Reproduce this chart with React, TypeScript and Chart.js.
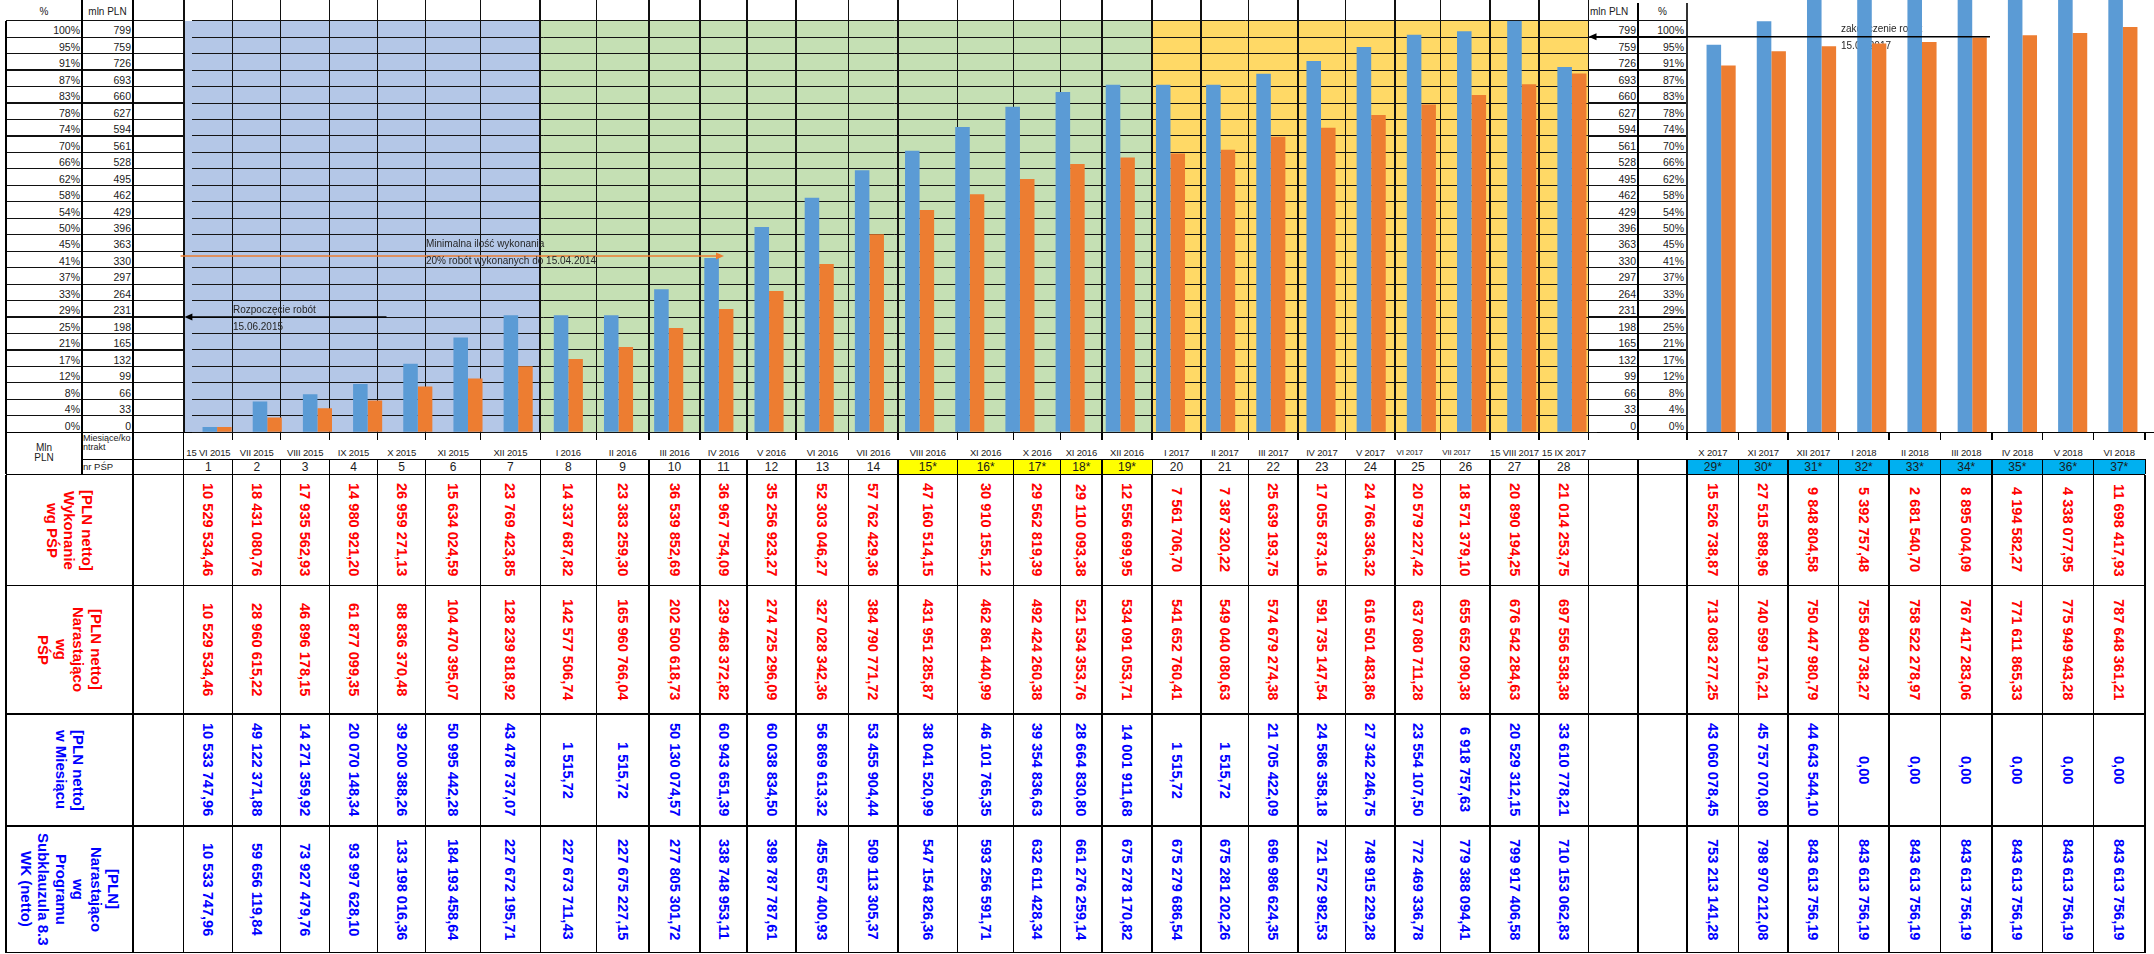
import React, { useEffect, useRef } from "react";
import { Chart, registerables } from "chart.js";

Chart.register(...registerables);

// ---------------- data ----------------
const MONTHS_A: string[] = [
  "15 VI 2015", "VII 2015", "VIII 2015", "IX 2015", "X 2015", "XI 2015", "XII 2015",
  "I 2016", "II 2016", "III 2016", "IV 2016", "V 2016", "VI 2016", "VII 2016",
  "VIII 2016", "XI 2016", "X 2016", "XI 2016", "XII 2016",
  "I 2017", "II 2017", "III 2017", "IV 2017", "V 2017", "VI 2017", "VII 2017", "15 VIII 2017", "15 IX 2017",
];
const MONTHS_B: string[] = ["X 2017", "XI 2017", "XII 2017", "I 2018", "II 2018", "III 2018", "IV 2018", "V 2018", "VI 2018"];

const PSP_A: string[] = [
  "1", "2", "3", "4", "5", "6", "7", "8", "9", "10", "11", "12", "13", "14",
  "15*", "16*", "17*", "18*", "19*", "20", "21", "22", "23", "24", "25", "26", "27", "28",
];
const PSP_B: string[] = ["29*", "30*", "31*", "32*", "33*", "34*", "35*", "36*", "37*"];

// [PLN netto] Wykonanie wg PŚP
const WYKONANIE_PSP: number[] = [
  10529534.46, 18431080.76, 17935562.93, 14980921.2, 26959271.13, 15634024.59, 23769423.85,
  14337687.82, 23383259.3, 36539852.69, 36967754.09, 35256923.27, 52303046.27, 57762429.36,
  47160514.15, 30910155.12, 29562819.39, 29110093.38, 12556699.95, 7561706.7, 7387320.22,
  25639193.75, 17055873.16, 24766336.32, 20579227.42, 18571379.1, 20890194.25, 21014253.75,
  15526738.87, 27515898.96, 9848804.58, 5392757.48, 2681540.7, 8895004.09, 4194582.27,
  4338077.95, 11698417.93,
];
// [PLN netto] Narastająco wg PŚP
const NARAST_PSP: number[] = [
  10529534.46, 28960615.22, 46896178.15, 61877099.35, 88836370.48, 104470395.07, 128239818.92,
  142577506.74, 165960766.04, 202500618.73, 239468372.82, 274725296.09, 327028342.36, 384790771.72,
  431951285.87, 462861440.99, 492424260.38, 521534353.76, 534091053.71, 541652760.41, 549040080.63,
  574679274.38, 591735147.54, 616501483.86, 637080711.28, 655652090.38, 676542284.63, 697556538.38,
  713083277.25, 740599176.21, 750447980.79, 755840738.27, 758522278.97, 767417283.06, 771611865.33,
  775949943.28, 787648361.21,
];
// [PLN netto] w Miesiącu
const W_MIESIACU: number[] = [
  10533747.96, 49122371.88, 14271359.92, 20070148.34, 39200388.26, 50995442.28, 43478737.07,
  1515.72, 1515.72, 50130074.57, 60943651.39, 60038834.5, 56869613.32, 53455904.44,
  38041520.99, 46101765.35, 39354836.63, 28664830.8, 14001911.68, 1515.72, 1515.72,
  21705422.09, 24586358.18, 27342246.75, 23554107.5, 6918757.63, 20529312.15, 33610778.21,
  43060078.45, 45757070.8, 44643544.1, 0, 0, 0, 0, 0, 0,
];
// [PLN] Narastająco wg Programu Subklauzula 8.3 WK (netto)
const NARAST_PROGRAM: number[] = [
  10533747.96, 59656119.84, 73927479.76, 93997628.1, 133198016.36, 184193458.64, 227672195.71,
  227673711.43, 227675227.15, 277805301.72, 338748953.11, 398787787.61, 455657400.93, 509113305.37,
  547154826.36, 593256591.71, 632611428.34, 661276259.14, 675278170.82, 675279686.54, 675281202.26,
  696986624.35, 721572982.53, 748915229.28, 772469336.78, 779388094.41, 799917406.58, 710153062.83,
  753213141.28, 798970212.08, 843613756.19, 843613756.19, 843613756.19, 843613756.19, 843613756.19,
  843613756.19, 843613756.19,
];

const PCT_LABELS: string[] = [
  "100%", "95%", "91%", "87%", "83%", "78%", "74%", "70%", "66%", "62%", "58%", "54%", "50%",
  "45%", "41%", "37%", "33%", "29%", "25%", "21%", "17%", "12%", "8%", "4%", "0%",
];
const MLN_LABELS: string[] = [
  "799", "759", "726", "693", "660", "627", "594", "561", "528", "495", "462", "429", "396",
  "363", "330", "297", "264", "231", "198", "165", "132", "99", "66", "33", "0",
];

const ROW_HEADERS: string[] = [
  "[PLN netto]\nWykonanie\nwg PŚP",
  "[PLN netto]\nNarastająco\nwg\nPŚP",
  "[PLN netto]\nw Miesiącu",
  "[PLN]\nNarastająco\nwg\nProgramu\nSubklauzula 8.3\nWK (netto)",
];

// ---------------- style / layout ----------------
const BLUE = "#5B9BD5";
const ORANGE = "#ED7D31";
const RED_TXT = "#FF0000";
const BLUE_TXT = "#0000FF";
const FONT = '"Liberation Sans", Arial, Helvetica, sans-serif';
const BAND_BLUE = "#B4C7E7";
const BAND_GREEN = "#C5E0B4";
const BAND_YELLOW = "#FFD966";

const GRID_TOP = 20.7;
const GRID_BOTTOM = 432.3;
const ROWS = 25;
const ROW_H = (GRID_BOTTOM - GRID_TOP) / ROWS;
const R1_BOTTOM = 459.3;
const R2_BOTTOM = 474.5;
const DATA_Y = [474.5, 585.7, 714, 826, 952.7];
const BORDERS_A = [
  183.8, 232.9, 280.6, 329.7, 377.4, 425.8, 480.5, 540.2, 596.3, 649, 700, 747, 796, 848.8, 898,
  957.6, 1013.7, 1060.7, 1102, 1152, 1201, 1248.5, 1298, 1345.7, 1395, 1440.8, 1490, 1539, 1588.6,
];
const GAP_BORDER = 1638;
const BORDERS_B = [1687, 1738.6, 1788, 1838.6, 1889, 1940.6, 1992, 2042.7, 2093.5, 2145];
const TABLE_RIGHT = 2145;

const LEFT_CANVAS = { x: 170, y: 10, w: 1440, h: 428 };
const LEFT_PLOT_X = [192, 1597];
const RIGHT_CANVAS = { x: 1580, y: 0, w: 574, h: 438 };
const RIGHT_PLOT_X = [1696, 2148];

function fmtPL(v: number): string {
  const s = v.toFixed(2);
  const [i, d] = s.split(".");
  return i.replace(/\B(?=(\d{3})+(?!\d))/g, " ") + "," + d;
}

function colX(i: number): [number, number] {
  return i < 28 ? [BORDERS_A[i], BORDERS_A[i + 1]] : [BORDERS_B[i - 28], BORDERS_B[i - 27]];
}

function drawArrow(ctx: CanvasRenderingContext2D, x1: number, y: number, x2: number, color: string, lw: number) {
  const dir = Math.sign(x2 - x1);
  ctx.strokeStyle = color;
  ctx.fillStyle = color;
  ctx.lineWidth = lw;
  ctx.beginPath();
  ctx.moveTo(x1, y);
  ctx.lineTo(x2 - dir * 6, y);
  ctx.stroke();
  ctx.beginPath();
  ctx.moveTo(x2, y);
  ctx.lineTo(x2 - dir * 8, y - 3.5);
  ctx.lineTo(x2 - dir * 8, y + 3.5);
  ctx.closePath();
  ctx.fill();
}

export default function App() {
  const leftRef = useRef<HTMLCanvasElement>(null);
  const rightRef = useRef<HTMLCanvasElement>(null);

  useEffect(() => {
    const progMln = NARAST_PROGRAM.map((v) => v / 1e6);
    const pspMln = NARAST_PSP.map((v) => v / 1e6);
    const nA = MONTHS_A.length;

    const leftAnn = {
      id: "leftAnn",
      afterDatasetsDraw(chart: any) {
        const ctx = chart.ctx as CanvasRenderingContext2D;
        ctx.save();
        ctx.translate(-LEFT_CANVAS.x, -LEFT_CANVAS.y);
        drawArrow(ctx, 386.5, 317, 184.4, "#000", 1.6);
        drawArrow(ctx, 180.6, 256, 724, ORANGE, 1.6);
        ctx.font = `10px ${FONT}`;
        ctx.fillStyle = "#262626";
        ctx.textBaseline = "middle";
        ctx.textAlign = "left";
        ctx.fillText("Rozpoczęcie robót", 233, 310.5);
        ctx.fillText("15.06.2015", 233, 327);
        ctx.fillText("Minimalna ilość wykonania", 426, 244.5);
        ctx.fillText("20% robót wykonanych do 15.04.2014", 426, 261);
        ctx.restore();
      },
    };

    const rightAnn = {
      id: "rightAnn",
      beforeDatasetsDraw(chart: any) {
        const ctx = chart.ctx as CanvasRenderingContext2D;
        ctx.save();
        ctx.translate(-RIGHT_CANVAS.x, -RIGHT_CANVAS.y);
        ctx.font = `10px ${FONT}`;
        ctx.fillStyle = "#262626";
        ctx.textBaseline = "middle";
        ctx.textAlign = "left";
        ctx.fillText("zakończenie robót", 1841, 29.5);
        ctx.fillText("15.09.2017", 1841, 46);
        ctx.restore();
      },
      afterDatasetsDraw(chart: any) {
        const ctx = chart.ctx as CanvasRenderingContext2D;
        ctx.save();
        ctx.translate(-RIGHT_CANVAS.x, -RIGHT_CANVAS.y);
        drawArrow(ctx, 1990, 36.7, 1588.5, "#000", 1.6);
        ctx.restore();
      },
    };

    const barOpts = { barPercentage: 1, categoryPercentage: 0.58, borderWidth: 0 };

    const left = new Chart(leftRef.current as HTMLCanvasElement, {
      type: "bar",
      data: {
        labels: MONTHS_A,
        datasets: [
          { label: "Narastająco wg Programu", data: progMln.slice(0, nA), backgroundColor: BLUE, ...barOpts },
          { label: "Narastająco wg PŚP", data: pspMln.slice(0, nA), backgroundColor: ORANGE, ...barOpts },
        ],
      },
      options: {
        animation: false,
        responsive: false,
        maintainAspectRatio: false,
        layout: {
          padding: {
            left: LEFT_PLOT_X[0] - LEFT_CANVAS.x,
            right: LEFT_CANVAS.x + LEFT_CANVAS.w - LEFT_PLOT_X[1],
            top: GRID_TOP - LEFT_CANVAS.y,
            bottom: LEFT_CANVAS.y + LEFT_CANVAS.h - GRID_BOTTOM,
          },
        },
        plugins: { legend: { display: false }, tooltip: { enabled: false } },
        scales: {
          x: { display: false },
          y: {
            min: 0,
            max: 800,
            ticks: { display: false, stepSize: 32, maxTicksLimit: 100 },
            grid: { color: "#141414", lineWidth: 1, drawTicks: false },
            border: { display: false },
          },
        },
      },
      plugins: [leftAnn],
    } as any);

    const right = new Chart(rightRef.current as HTMLCanvasElement, {
      type: "bar",
      data: {
        labels: MONTHS_B,
        datasets: [
          { label: "Narastająco wg Programu", data: progMln.slice(nA), backgroundColor: BLUE, ...barOpts },
          { label: "Narastająco wg PŚP", data: pspMln.slice(nA), backgroundColor: ORANGE, ...barOpts },
        ],
      },
      options: {
        animation: false,
        responsive: false,
        maintainAspectRatio: false,
        layout: {
          padding: {
            left: RIGHT_PLOT_X[0] - RIGHT_CANVAS.x,
            right: RIGHT_CANVAS.x + RIGHT_CANVAS.w - RIGHT_PLOT_X[1],
            top: 0,
            bottom: RIGHT_CANVAS.y + RIGHT_CANVAS.h - GRID_BOTTOM,
          },
        },
        plugins: { legend: { display: false }, tooltip: { enabled: false } },
        scales: {
          x: { display: false },
          y: { display: false, min: 0, max: (800 * GRID_BOTTOM) / (GRID_BOTTOM - GRID_TOP) },
        },
      },
      plugins: [rightAnn],
    } as any);

    return () => {
      left.destroy();
      right.destroy();
    };
  }, []);

  // ---------------- spreadsheet background ----------------
  const els: React.ReactNode[] = [];
  let k = 0;
  const rect = (x1: number, y1: number, x2: number, y2: number, bg: string) =>
    els.push(
      <div key={k++} style={{ position: "absolute", left: x1, top: y1, width: x2 - x1, height: y2 - y1, background: bg }} />
    );
  const hl = (x1: number, x2: number, y: number, w = 1, c = "#000") => rect(x1, y - w / 2, x2, y + w / 2, c);
  const vl = (x: number, y1: number, y2: number, w = 1, c = "#000") => rect(x - w / 2, y1, x + w / 2, y2, c);
  const txt = (
    x1: number, y1: number, x2: number, y2: number, content: React.ReactNode,
    style: React.CSSProperties, h: "left" | "center" | "right" = "center", v: "top" | "center" | "bottom" = "center"
  ) =>
    els.push(
      <div
        key={k++}
        style={{
          position: "absolute", left: x1, top: y1, width: x2 - x1, height: y2 - y1, display: "flex",
          justifyContent: h === "left" ? "flex-start" : h === "right" ? "flex-end" : "center",
          alignItems: v === "top" ? "flex-start" : v === "bottom" ? "flex-end" : "center",
          fontFamily: FONT, whiteSpace: "pre", color: "#1a1a1a", ...style,
        }}
      >
        {content}
      </div>
    );

  // bands (cell fills)
  rect(BORDERS_A[0], GRID_TOP, BORDERS_A[7], GRID_BOTTOM, BAND_BLUE);
  rect(BORDERS_A[7], GRID_TOP, BORDERS_A[19], GRID_BOTTOM, BAND_GREEN);
  rect(BORDERS_A[19], GRID_TOP, BORDERS_A[28], GRID_BOTTOM, BAND_YELLOW);

  // top-region lines
  for (let r = 0; r <= ROWS; r++) {
    const y = GRID_TOP + r * ROW_H;
    hl(6, BORDERS_A[0], y, 1.2, "#111");
    hl(BORDERS_A[28], BORDERS_B[0], y, 1.2, "#111");
  }
  vl(6, GRID_TOP, GRID_BOTTOM, 1.2);
  vl(82, 0, GRID_BOTTOM, 1.2);
  vl(133, 0, GRID_BOTTOM, 1.2);
  BORDERS_A.forEach((x, i) => {
    const w = i === 0 ? 2.2 : i === 7 || i === 10 ? 2.6 : 1.1;
    vl(x, 0, GRID_BOTTOM, w, "#111");
  });
  vl(GAP_BORDER, 3, GRID_BOTTOM, 1.2);
  vl(BORDERS_B[0], 3, GRID_BOTTOM, 1.6, "#333");

  // axis tables labels
  txt(6, 2, 82, GRID_TOP, "%", { fontSize: 10 });
  txt(82, 2, 133, GRID_TOP, "mln PLN", { fontSize: 10 });
  txt(1590, 2, GAP_BORDER, GRID_TOP, "mln PLN", { fontSize: 10 }, "left");
  txt(GAP_BORDER, 2, BORDERS_B[0], GRID_TOP, "%", { fontSize: 10 });
  for (let r = 0; r < ROWS; r++) {
    const y1 = GRID_TOP + r * ROW_H + 1.5;
    const y2 = y1 + ROW_H;
    txt(6, y1, 80, y2, PCT_LABELS[r], { fontSize: 10.5 }, "right");
    txt(82, y1, 131, y2, MLN_LABELS[r], { fontSize: 10.5 }, "right");
    txt(BORDERS_A[28], y1, 1636, y2, MLN_LABELS[r], { fontSize: 10.5 }, "right");
    txt(GAP_BORDER, y1, 1684, y2, PCT_LABELS[r], { fontSize: 10.5 }, "right");
  }

  // category rows
  hl(6, 2154, GRID_BOTTOM, 1.5);
  hl(82, TABLE_RIGHT, R1_BOTTOM, 1.1);
  hl(6, TABLE_RIGHT, R2_BOTTOM, 1.6);
  [6, 82, 133, BORDERS_A[0]].forEach((x) => vl(x, GRID_BOTTOM, R2_BOTTOM, 1.2));
  const catBorders = [...BORDERS_A.slice(1), GAP_BORDER, ...BORDERS_B];
  catBorders.forEach((x) => {
    vl(x, GRID_BOTTOM, GRID_BOTTOM + 8, 1.1);
    vl(x, R1_BOTTOM, R2_BOTTOM, 1.1);
  });
  txt(6, GRID_BOTTOM, 82, R2_BOTTOM, "Mln\nPLN", { fontSize: 10, lineHeight: "10px", textAlign: "center" });
  txt(83, GRID_BOTTOM + 2, 133, R1_BOTTOM, "Miesiące/ko\nntrakt", { fontSize: 9, lineHeight: "9px" }, "left", "top");
  txt(83, R1_BOTTOM, 133, R2_BOTTOM, "nr PŚP", { fontSize: 9.5 }, "left");

  const allMonths = [...MONTHS_A, ...MONTHS_B];
  const allPsp = [...PSP_A, ...PSP_B];
  for (let i = 0; i < allMonths.length; i++) {
    const [x1, x2] = colX(i);
    const small = i === 24 || i === 25;
    txt(
      small ? x1 + 1.5 : x1 - 2, GRID_BOTTOM + 13, small ? x2 : x2 + 2, GRID_BOTTOM + 27, allMonths[i],
      { fontSize: small ? 8 : 9.5, letterSpacing: "-0.2px" }, small ? "left" : "center"
    );
    const fill = i >= 14 && i <= 18 ? "#FFFF00" : i >= 28 ? "#00B0F0" : "";
    if (fill) rect(x1 + 0.5, R1_BOTTOM + 0.6, x2 - 0.5, R2_BOTTOM - 0.8, fill);
    txt(x1, R1_BOTTOM, x2, R2_BOTTOM, allPsp[i], { fontSize: 12 });
  }

  // data rows
  DATA_Y.forEach((y) => hl(6, TABLE_RIGHT, y, y === DATA_Y[0] ? 1.6 : 1.3));
  [6, 133, ...BORDERS_A, GAP_BORDER, ...BORDERS_B].forEach((x) => vl(x, DATA_Y[0], DATA_Y[4], 1.2));

  const rowData = [WYKONANIE_PSP, NARAST_PSP, W_MIESIACU, NARAST_PROGRAM];
  const rowColor = [RED_TXT, RED_TXT, BLUE_TXT, BLUE_TXT];
  rowData.forEach((arr, r) => {
    const y1 = DATA_Y[r];
    const y2 = DATA_Y[r + 1];
    txt(
      6, y1, 133, y2,
      <span style={{ writingMode: "vertical-rl", textAlign: "center", lineHeight: "17.5px" }}>{ROW_HEADERS[r]}</span>,
      { fontSize: 15, fontWeight: 700, color: rowColor[r] }
    );
    arr.forEach((v, i) => {
      const [x1, x2] = colX(i);
      txt(
        x1, y1, x2, y2,
        <span style={{ writingMode: "vertical-rl" }}>{fmtPL(v)}</span>,
        { fontSize: 14.6, fontWeight: 700, color: rowColor[r] }
      );
    });
  });

  return (
    <div
      style={{
        position: "absolute", left: 0, top: 0, width: 2154, height: 954, overflow: "hidden",
        background: "#fff", fontFamily: FONT,
      }}
    >
      {els}
      <canvas
        ref={leftRef}
        width={LEFT_CANVAS.w}
        height={LEFT_CANVAS.h}
        style={{ position: "absolute", left: LEFT_CANVAS.x, top: LEFT_CANVAS.y, width: LEFT_CANVAS.w, height: LEFT_CANVAS.h }}
      />
      <canvas
        ref={rightRef}
        width={RIGHT_CANVAS.w}
        height={RIGHT_CANVAS.h}
        style={{ position: "absolute", left: RIGHT_CANVAS.x, top: RIGHT_CANVAS.y, width: RIGHT_CANVAS.w, height: RIGHT_CANVAS.h }}
      />
    </div>
  );
}
